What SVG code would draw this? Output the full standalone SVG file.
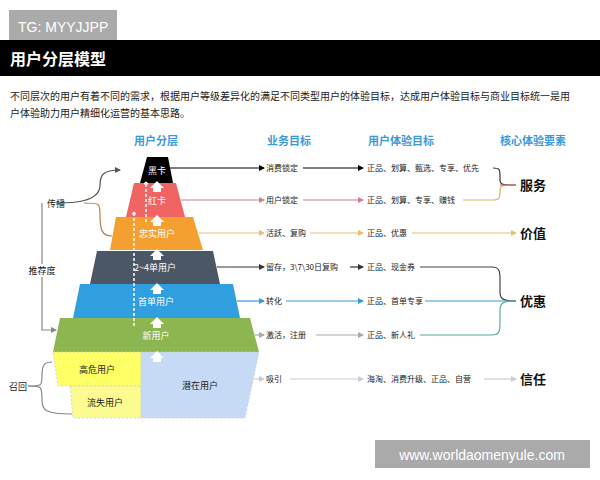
<svg xmlns="http://www.w3.org/2000/svg" width="600" height="480" viewBox="0 0 600 480">
<defs>
<style>
text{font-family:"Noto Sans CJK SC","Liberation Sans",sans-serif}
.s{font-size:8px;fill:#222}
.w{font-size:9px;fill:#fff;text-anchor:middle}
.h{font-size:11px;fill:#3a9ad9;font-weight:bold;text-anchor:middle}
.k{font-size:13px;font-weight:bold;fill:#111}
.l{fill:none;stroke-width:1.2}
.d{fill:none;stroke:#fff;stroke-width:1.5;stroke-dasharray:3 2}
</style>
<marker id="a" viewBox="0 0 6 6" refX="5" refY="3" markerWidth="5" markerHeight="5" orient="auto"><path d="M0,0L6,3L0,6z" fill="context-stroke"/></marker>
<g id="up"><path d="M-4,0h8v-4h3l-7,-7l-7,7h3z" fill="#fff"/></g>
</defs>
<rect width="600" height="480" fill="#fff"/>
<g id="header">
<rect x="9" y="10" width="108" height="30" fill="#aaa"/>
<text x="18" y="32" font-size="14" fill="#fff" style="font-family:'Liberation Sans',sans-serif">TG: MYYJJPP</text>
<rect x="0" y="40" width="600" height="36" fill="#000"/>
<text x="10" y="65" font-size="16" font-weight="bold" fill="#fff">用户分层模型</text>
<text x="10" y="100" font-size="10" fill="#222">不同层次的用户有着不同的需求，根据用户等级差异化的满足不同类型用户的体验目标，达成用户体验目标与商业目标统一是用</text>
<text x="10" y="117" font-size="10" fill="#222">户体验助力用户精细化运营的基本思路。</text>
</g>
<g id="titles">
<text x="156" y="145" class="h">用户分层</text>
<text x="289" y="145" class="h">业务目标</text>
<text x="401" y="145" class="h">用户体验目标</text>
<text x="533" y="145" class="h">核心体验要素</text>
</g>
<g id="pyramid">
<polygon points="147,157 168,157 173,183 140,183" fill="#000"/>
<polygon points="134,183 176,183 185,217 126,217" fill="#f06464"/>
<polygon points="116,217 193,217 203,250 110,250" fill="#f4a030"/>
<polygon points="97,251 213,251 220,284 90,284" fill="#4c5766"/>
<polygon points="80,284 233,284 240,318 73,318" fill="#2f9fe0"/>
<polygon points="60,318 250,318 259,352 53,352" fill="#8bb650"/>
<polygon points="53,352 141,352 141,386 58,386" fill="#ffff66" stroke="#ccc" stroke-dasharray="2 2" stroke-width="0.8"/>
<polygon points="70,386 141,386 141,418 73,418" fill="#fbfb90" stroke="#ccc" stroke-dasharray="2 2" stroke-width="0.8"/>
<polygon points="141,352 259,352 245,418 141,418" fill="#c6daf6" stroke="#ccc" stroke-dasharray="2 2" stroke-width="0.8"/>
<text x="157" y="174" class="w">黑卡</text>
<text x="157" y="204" class="w">红卡</text>
<text x="157" y="237" class="w">忠实用户</text>
<text x="155" y="271" class="w">2~4单用户</text>
<text x="156" y="305" class="w">首单用户</text>
<text x="156" y="339" class="w">新用户</text>
<text x="97" y="373" font-size="9" fill="#222" text-anchor="middle">高危用户</text>
<text x="105" y="406" font-size="9" fill="#222" text-anchor="middle">流失用户</text>
<text x="200" y="389" font-size="9" fill="#222" text-anchor="middle">潜在用户</text>
<use href="#up" x="157" y="192"/>
<use href="#up" x="157" y="226"/>
<use href="#up" x="157" y="260"/>
<use href="#up" x="157" y="294"/>
<use href="#up" x="157" y="328"/>
<use href="#up" x="157" y="362"/>
<path class="d" d="M146,222V182M146,182l-3,4M146,182l3,4"/>
<path class="d" d="M134,326V212M134,212l-3,4M134,212l3,4"/>
</g>
<g id="connectors">
<path class="l" stroke="#555" d="M56,203C70,203 100,203 100,185C100,175 103,170 120,170" marker-end="url(#a)"/>
<path class="l" stroke="#b08050" d="M84,203C100,203 100,203 100,215C100,230 102,236 112,236"/>
<path class="l" stroke="#888" d="M42,203V330H56" marker-end="url(#a)"/>
<path class="l" stroke="#888" d="M28,386C42,386 42,386 42,375C42,364 45,362 52,362"/>
<path class="l" stroke="#888" d="M28,386C42,386 42,386 42,400C42,410 45,414 72,414"/>
<path class="l" stroke="#000" d="M168,168H264" marker-end="url(#a)"/>
<path class="l" stroke="#000" d="M303,168H363" marker-end="url(#a)"/>
<path class="l" stroke="#d08090" d="M181,200H264" marker-end="url(#a)"/>
<path class="l" stroke="#d08090" d="M303,200H363" marker-end="url(#a)"/>
<path class="l" stroke="#e8c070" d="M199,233H264" marker-end="url(#a)"/>
<path class="l" stroke="#e8c070" d="M310,233H363" marker-end="url(#a)"/>
<path class="l" stroke="#e8c070" d="M412,233H516" marker-end="url(#a)"/>
<path class="l" stroke="#333" d="M217,267H264" marker-end="url(#a)"/>
<path class="l" stroke="#333" d="M350,267H363" marker-end="url(#a)"/>
<path class="l" stroke="#3a9ad9" d="M237,301H264" marker-end="url(#a)"/>
<path class="l" stroke="#3a9ad9" d="M286,301H363" marker-end="url(#a)"/>
<path class="l" stroke="#aaa" d="M255,335H264" marker-end="url(#a)"/>
<path class="l" stroke="#aaa" d="M316,335H363" marker-end="url(#a)"/>
<path class="l" stroke="#ccd" d="M254,379H264" marker-end="url(#a)"/>
<path class="l" stroke="#ccd" d="M290,379H363" marker-end="url(#a)"/>
<path class="l" stroke="#ccd" d="M484,379H516" marker-end="url(#a)"/>
<path class="l" stroke="#333" d="M493,168C500,168 500,170 500,175V180C500,185 503,185 516,185"/>
<path class="l" stroke="#e8b060" d="M463,200H493C500,200 500,197 500,192V190C500,185 503,185 516,185"/>
<path class="l" stroke="#c07080" d="M500,185H516"/>
<path class="l" stroke="#444" d="M420,267H492C500,267 500,272 500,280V292C500,299 503,301 516,301"/>
<path class="l" stroke="#3a9ad9" d="M425,301H516"/>
<path class="l" stroke="#3a9ad9" d="M500,301"/>
<path class="l" stroke="#5aaaa0" d="M420,335H492C500,335 500,330 500,322V310C500,303 503,301 516,301"/>
</g>
<g id="labels">
<text x="56" y="207" font-size="9" fill="#222" text-anchor="middle">传播</text>
<text x="42" y="274" font-size="9" fill="#222" text-anchor="middle" style="paint-order:stroke" stroke="#fff" stroke-width="4">推荐度</text>
<text x="18" y="390" font-size="9" fill="#222" text-anchor="middle">召回</text>
<text x="266" y="171" class="s">消费锁定</text>
<text x="266" y="203" class="s">用户锁定</text>
<text x="266" y="236" class="s">活跃、复购</text>
<text x="266" y="270" class="s">留存，3\7\30日复购</text>
<text x="266" y="304" class="s">转化</text>
<text x="266" y="338" class="s">激活，注册</text>
<text x="266" y="382" class="s">吸引</text>
<text x="367" y="171" class="s">正品、划算、甄选、专享、优先</text>
<text x="367" y="203" class="s">正品、划算、专享、赚钱</text>
<text x="367" y="236" class="s">正品、优惠</text>
<text x="367" y="270" class="s">正品、现金券</text>
<text x="367" y="304" class="s">正品、首单专享</text>
<text x="367" y="338" class="s">正品、新人礼</text>
<text x="367" y="382" class="s">海淘、消费升级、正品、自营</text>
<text x="520" y="190" class="k">服务</text>
<text x="520" y="238" class="k">价值</text>
<text x="520" y="306" class="k">优惠</text>
<text x="520" y="384" class="k">信任</text>
</g>
<g id="watermark">
<rect x="375" y="440" width="215" height="28" fill="#aaa"/>
<text x="482" y="460" font-size="14" fill="#fff" text-anchor="middle" style="font-family:'Liberation Sans',sans-serif">www.worldaomenyule.com</text>
</g>
</svg>
